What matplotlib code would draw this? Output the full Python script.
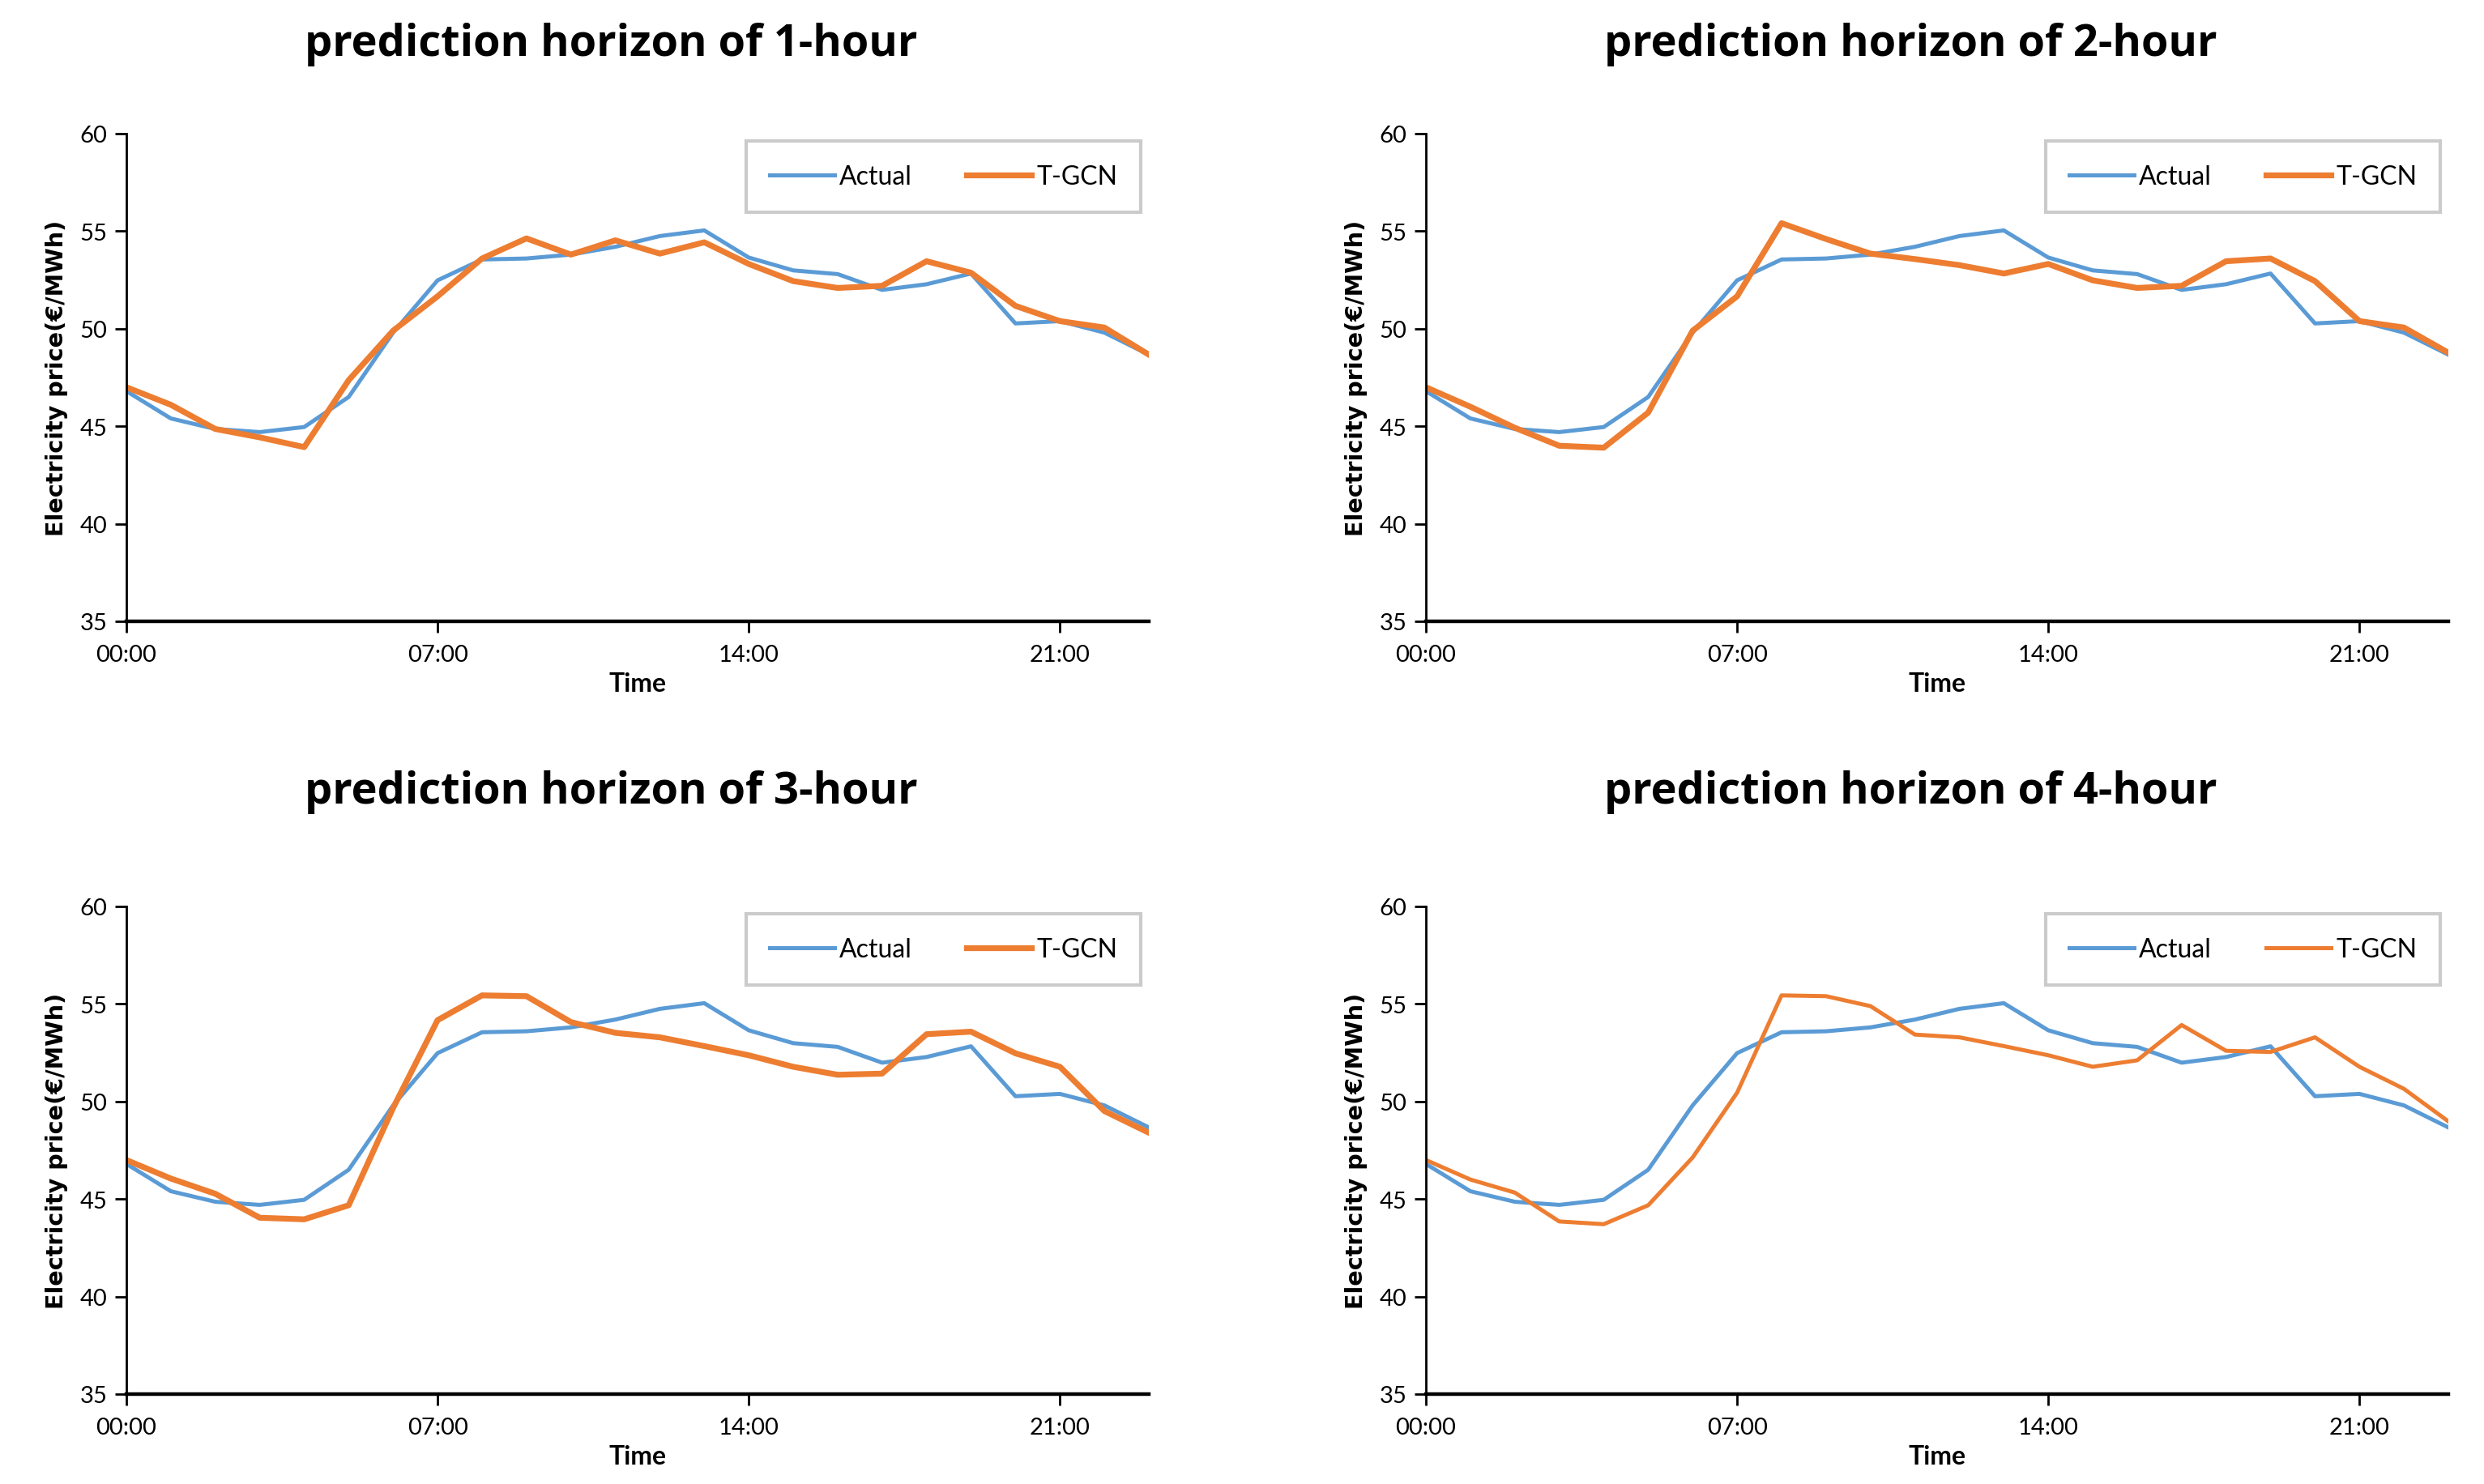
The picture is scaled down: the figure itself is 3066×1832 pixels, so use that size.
import matplotlib
matplotlib.use("Agg")
import matplotlib.pyplot as plt

hours = list(range(24))
tick_pos = [0, 7, 14, 21]
tick_labels = ["00:00", "07:00", "14:00", "21:00"]
titles = ["prediction horizon of 1-hour", "prediction horizon of 2-hour",
          "prediction horizon of 3-hour", "prediction horizon of 4-hour"]

actual = [46.8, 45.4, 44.86, 44.7, 44.96, 46.5, 49.8, 52.48, 53.55, 53.6, 53.8, 54.2,
          54.75, 55.04, 53.65, 52.99, 52.8, 51.99, 52.28, 52.83, 50.27, 50.39, 49.8, 48.67]

tgcn_1h = [47.0, 46.1, 44.86, 44.43, 43.93, 47.36, 49.9, 51.66, 53.6, 54.63, 53.8, 54.53,
           53.85, 54.43, 53.32, 52.44, 52.09, 52.2, 53.46, 52.87, 51.17, 50.39, 50.06, 48.67]
tgcn_2h = [47.0, 46.0, 44.92, 44.0, 43.9, 45.7, 49.9, 51.66, 55.41, 54.6, 53.85, 53.57,
           53.26, 52.83, 53.32, 52.48, 52.09, 52.2, 53.46, 53.6, 52.44, 50.39, 50.06, 48.77]
tgcn_3h = [47.0, 46.05, 45.27, 44.04, 43.96, 44.68, 49.67, 54.17, 55.44, 55.4, 54.07, 53.52,
           53.29, 52.84, 52.37, 51.78, 51.37, 51.43, 53.45, 53.58, 52.47, 51.78, 49.51, 48.4]
tgcn_4h = [47.0, 46.0, 45.33, 43.85, 43.71, 44.68, 47.13, 50.45, 55.44, 55.4, 54.89, 53.43,
           53.29, 52.84, 52.37, 51.78, 52.11, 53.92, 52.6, 52.54, 53.29, 51.78, 50.65, 48.98]

series = [tgcn_1h, tgcn_2h, tgcn_3h, tgcn_4h]
tgcn_widths = [2.6, 2.6, 2.6, 1.8]
title_pads = [35, 46]

W, H = 3066, 1833
fig = plt.figure(figsize=(W / 200, H / 200), dpi=200)

lefts = [156 / W, 1760 / W]
bottoms = [1 - 768 / H, 1 - 1722 / H]
aw = (1418 - 156) / W
ah = (768 - 166) / H

blue = "#5B9BD5"
orange = "#ED7D31"
tick_font = ["Lato", "DejaVu Sans"]

for i in range(4):
    r, c = divmod(i, 2)
    ax = fig.add_axes([lefts[c], bottoms[r], aw, ah])
    ax.plot(hours, actual, color=blue, lw=1.8, label="Actual")
    ax.plot(hours, series[i], color=orange, lw=tgcn_widths[i], label="T-GCN")
    ax.set_xlim(0, 23)
    ax.set_ylim(35, 60)
    ax.set_yticks([35, 40, 45, 50, 55, 60])
    ax.set_xticks(tick_pos)
    ax.set_xticklabels(tick_labels)
    for s in ["top", "right"]:
        ax.spines[s].set_visible(False)
    ax.spines["left"].set_linewidth(1.0)
    ax.spines["bottom"].set_linewidth(1.6)
    ax.tick_params(axis="both", direction="out", length=5, width=1.0, labelsize=10.5)
    ax.tick_params(axis="x", pad=5)
    for lab in ax.get_xticklabels() + ax.get_yticklabels():
        lab.set_family(tick_font)
    ax.set_xlabel("Time", fontsize=11.5, fontweight="bold", family=tick_font, labelpad=3)
    ax.set_ylabel("Electricity price(€/MWh)", fontsize=10.3, fontweight="bold",
                  family=["DejaVu Sans"], labelpad=5)
    ax.set_title(titles[i], fontsize=19.5, fontweight="bold", family=["Open Sans", "DejaVu Sans"],
                 x=0.474, pad=title_pads[r])
    leg = ax.legend(loc="upper right", ncol=2, frameon=True, fancybox=False, shadow=False,
                    bbox_to_anchor=(0.992, 0.985), borderaxespad=0, borderpad=0.9,
                    columnspacing=2.1, handlelength=2.5, handletextpad=0.2,
                    prop={"family": tick_font, "size": 11.5})
    leg.get_frame().set_edgecolor("#BFBFBF")
    leg.get_frame().set_linewidth(1.5)

fig.savefig("out.png", dpi=200, facecolor="white")
